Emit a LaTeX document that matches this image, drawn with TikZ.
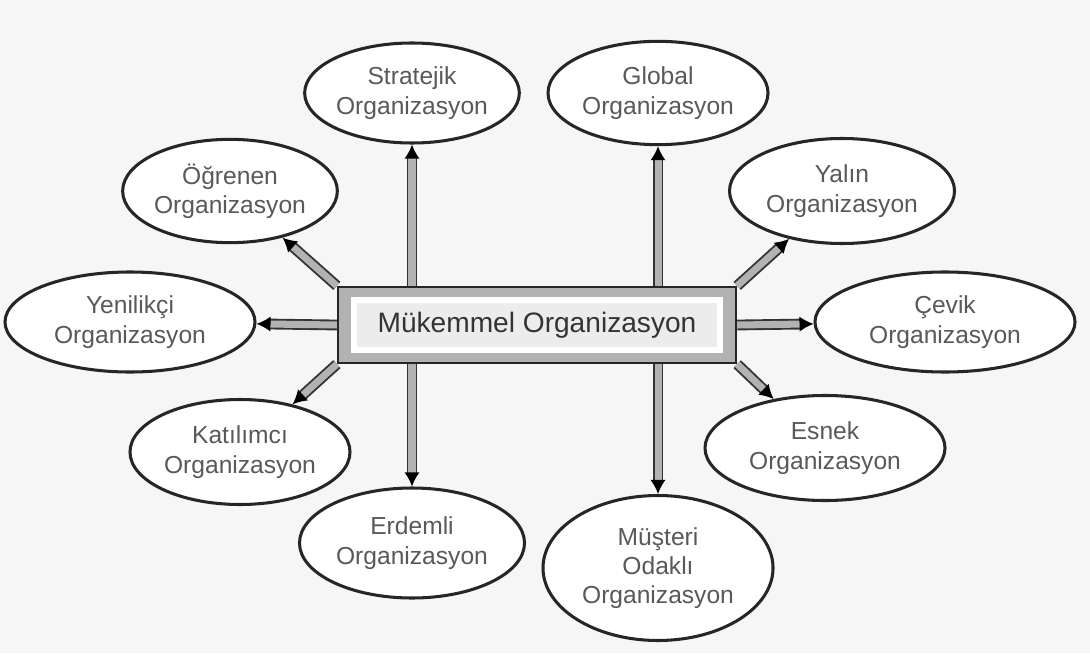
\documentclass[tikz,border=0pt]{standalone}
\usepackage{fontspec}
\setmainfont{Liberation Sans}
\usepackage{tikz}
\usetikzlibrary{shapes.geometric, arrows.meta}

\begin{document}
\begin{tikzpicture}[x=0.015cm, y=-0.015cm, font=\fontsize{10.5}{12.5}\selectfont,
    org/.style={ellipse, draw=black!85, line width=1.3pt, fill=white, inner sep=0pt,
      align=center, text=black!65},
    link/.style={draw=black!80, line width=0.8pt, double=gray!60, double distance=3pt,
      -{Latex[length=6pt, width=6.5pt, black]}}]
  \fill[gray!7] (0,0) rectangle (1090,653);
  \useasboundingbox (0,0) rectangle (1090,653);
  \node[draw=black!85, fill=gray!60, line width=1pt, minimum width=5.97cm, minimum height=1.14cm] (mukemmel) at (537,325) {};
  \node[draw=white, fill=gray!15, line width=2.5pt, minimum width=5.5cm, minimum height=0.75cm, text=black!80] (mukemmeltext) at (537,325) {\fontsize{12}{14}\selectfont Mükemmel Organizasyon};
  \node[org, minimum width=3.21cm, minimum height=1.5cm] (strat) at (412,93) {Stratejik\\Organizasyon};
  \node[org, minimum width=3.3cm, minimum height=1.55cm] (global) at (658,93) {Global\\Organizasyon};
  \node[org, minimum width=3.2cm, minimum height=1.55cm] (ogrenen) at (230,191) {Öğrenen\\Organizasyon};
  \node[org, minimum width=3.375cm, minimum height=1.575cm] (yalin) at (842,191) {Yalın\\Organizasyon};
  \node[org, minimum width=3.75cm, minimum height=1.5cm] (yenilikci) at (130,322) {Yenilikçi\\Organizasyon};
  \node[org, minimum width=3.9cm, minimum height=1.5cm] (cevik) at (945,322) {Çevik\\Organizasyon};
  \node[org, minimum width=3.3cm, minimum height=1.575cm] (katilimci) at (240,452) {Katılımcı\\Organizasyon};
  \node[org, minimum width=3.6cm, minimum height=1.575cm] (esnek) at (825,448) {Esnek\\Organizasyon};
  \node[org, minimum width=3.375cm, minimum height=1.65cm] (erdemli) at (412,543) {Erdemli\\Organizasyon};
  \node[org, minimum width=3.45cm, minimum height=2.175cm] (musteri) at (658,568) {Müşteri\\Odaklı\\Organizasyon};
  \draw[link] (strat |- mukemmel.north) -- (strat);
  \draw[link] (global |- mukemmel.north) -- (global);
  \draw[link] (erdemli |- mukemmel.south) -- (erdemli);
  \draw[link] (musteri |- mukemmel.south) -- (musteri);
  \draw[link] (mukemmel.west) -- (yenilikci);
  \draw[link] (mukemmel.east) -- (cevik);
  \draw[link] (mukemmel.north west) -- (ogrenen);
  \draw[link] (mukemmel.south west) -- (katilimci);
  \draw[link] (mukemmel.north east) -- (yalin);
  \draw[link] (mukemmel.south east) -- (esnek);
\end{tikzpicture}
\end{document}
